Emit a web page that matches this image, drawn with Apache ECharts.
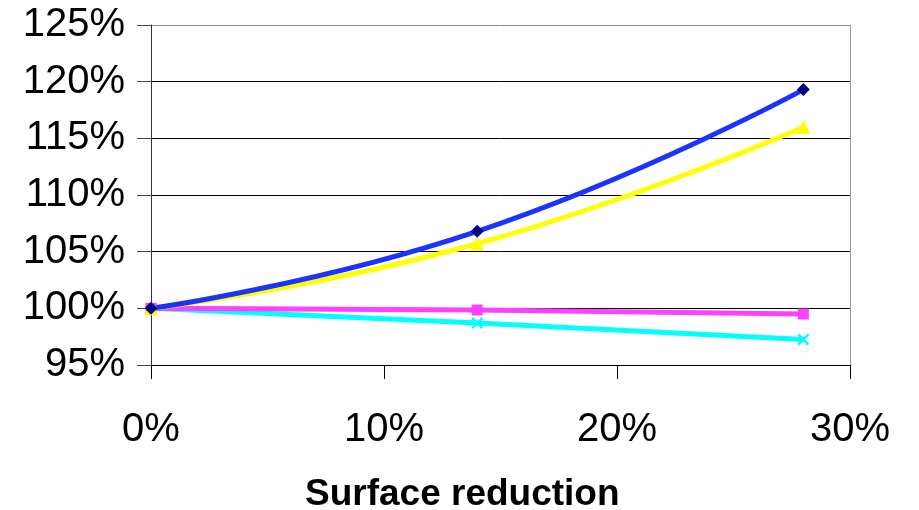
<!DOCTYPE html>
<html><head><meta charset="utf-8">
<script src="https://cdn.jsdelivr.net/npm/echarts@6/dist/echarts.min.js"></script>
<style>html,body{margin:0;padding:0;background:#fff}#c{width:919px;height:510px}</style>
</head><body><div id="c"></div>
<script>
const xValues = [0, 14, 28];
const blueValues = [100, 106.8, 119.3];
const yellowValues = [100, 105.7, 116.0];
const magentaValues = [100, 99.85, 99.5];
const cyanValues = [100, 98.7, 97.25];
const xTitle = 'Surface reduction';

const pairs = v => xValues.map((x, i) => [x, v[i]]);
const FONT = 'Liberation Sans, Arial, sans-serif';
const xPath = 'path://M0,1.5L1.5,0L5,3.5L8.5,0L10,1.5L6.5,5L10,8.5L8.5,10L5,6.5L1.5,10L0,8.5L3.5,5Z';

const chart = echarts.init(document.getElementById('c'), null, {renderer: 'canvas'});
chart.setOption({
  animation: false,
  backgroundColor: '#fff',
  grid: {left: 151, right: 69, top: 25, bottom: 145},
  xAxis: {
    type: 'value', min: 0, max: 30, interval: 10,
    axisLine: {show: true, lineStyle: {color: '#000', width: 1}},
    axisTick: {show: true, length: 14, lineStyle: {color: '#000'}},
    axisLabel: {formatter: '{value}%', fontSize: 40, fontFamily: FONT, color: '#000', margin: 45},
    splitLine: {show: false}
  },
  yAxis: [{
    type: 'value', min: 95, max: 125, interval: 5,
    axisLine: {show: true, lineStyle: {color: '#333', width: 1}},
    axisTick: {show: true, length: 14, lineStyle: {color: '#444'}},
    axisLabel: {formatter: '{value}%', fontSize: 40, fontFamily: FONT, color: '#000', margin: 26},
    splitLine: {show: true, lineStyle: {color: ['#000','#000','#000','#000','#000','#000','#888'], width: 1}}
  }, {
    type: 'value', min: 95, max: 125, interval: 5, position: 'right',
    axisLine: {show: true, lineStyle: {color: '#999', width: 1}},
    axisTick: {show: false}, axisLabel: {show: false}, splitLine: {show: false}
  }],
  graphic: [{
    type: 'text', left: 305, top: 476,
    style: {text: xTitle, font: 'bold 37px ' + FONT, fill: '#000'}
  }],
  series: [
    {type: 'line', name: 'cyan', data: pairs(cyanValues), smooth: true,
     lineStyle: {color: '#00ffff', width: 5}, itemStyle: {color: '#00ffff'},
     symbol: xPath, symbolSize: 12, showSymbol: true},
    {type: 'line', name: 'magenta', data: pairs(magentaValues), smooth: true,
     lineStyle: {color: '#ff40ff', width: 5}, itemStyle: {color: '#ff40ff'},
     symbol: 'rect', symbolSize: 11},
    {type: 'line', name: 'yellow', data: pairs(yellowValues), smooth: true,
     lineStyle: {color: '#ffff00', width: 5}, itemStyle: {color: '#ffff00'},
     symbol: 'triangle', symbolSize: 14},
    {type: 'line', name: 'blue', data: pairs(blueValues), smooth: true,
     lineStyle: {color: '#1a33ff', width: 5}, itemStyle: {color: '#000080'},
     symbol: 'diamond', symbolSize: 13}
  ]
});
</script></body></html>
